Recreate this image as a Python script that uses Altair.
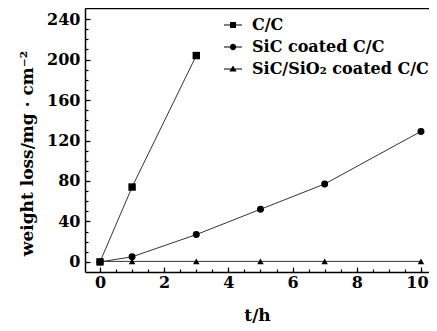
import altair as alt
import pandas as pd

series_names = ["C/C", "SiC coated C/C", "SiC/SiO₂ coated C/C"]
t_cc = [0, 1, 3]
w_cc = [0, 74, 204]
t_sic = [0, 1, 3, 5, 7, 10]
w_sic = [0, 5, 27, 52, 77, 129]
t_sio2 = [0, 1, 3, 5, 7, 10]
w_sio2 = [0.5, 0.5, 0.5, 0.5, 0.5, 0.5]

x_major = [0, 2, 4, 6, 8, 10]
x_minor = [i * 0.5 for i in range(0, 21)]
y_major = [0, 40, 80, 120, 160, 200, 240]
y_minor = list(range(0, 250, 10))

rows = []
for name, ts, ws in zip(series_names, [t_cc, t_sic, t_sio2], [w_cc, w_sic, w_sio2]):
    for t, w in zip(ts, ws):
        rows.append({"series": name, "t": t, "w": w})
df = pd.DataFrame(rows)

FONT = "DejaVu Serif"
FS = 16
xscale = alt.Scale(domain=[-0.467, 10.25], nice=False, zero=False)
yscale = alt.Scale(domain=[-10, 251], nice=False, zero=False)

base = alt.Chart(df)

main_x_axis = alt.Axis(values=x_major, tickSize=0, domain=True, domainColor="black", domainWidth=1.5,
                       grid=False, labelFont=FONT, labelFontSize=FS, labelFontWeight="bold",
                       labelColor="black", labelPadding=2,
                       labelOffset=alt.ConditionalAxisNumber(condition={"test": "datum.value == 10", "value": -4}, value=0),
                       title="t/h", titleFont=FONT, titleFontSize=17, titleFontWeight="bold",
                       titleColor="black", titlePadding=17, orient="bottom", format="d")
main_y_axis = alt.Axis(values=y_major, tickSize=0, domain=True, domainColor="black", domainWidth=1.5,
                       grid=False, labelFont=FONT, labelFontSize=FS, labelFontWeight="bold",
                       labelColor="black", labelPadding=5,
                       title="weight loss/mg · cm⁻²", titleFont=FONT, titleFontSize=17,
                       titleFontWeight="bold", titleColor="black", titleX=-53, titleY=145,
                       titleBaseline="alphabetic", orient="left", format="d")

lines = base.mark_line(color="#333333", strokeWidth=1).encode(
    x=alt.X("t:Q", scale=xscale, axis=main_x_axis),
    y=alt.Y("w:Q", scale=yscale, axis=main_y_axis),
    detail="series:N",
)

points = base.mark_point(filled=True, color="black", opacity=1).encode(
    x=alt.X("t:Q", scale=xscale, axis=None),
    y=alt.Y("w:Q", scale=yscale, axis=None),
    shape=alt.Shape("series:N", scale=alt.Scale(domain=series_names, range=["square", "circle", "triangle-up"]), legend=None),
    size=alt.Size("series:N", scale=alt.Scale(domain=series_names, range=[55, 42, 50]), legend=None),
)

def tick_axis(values, size, orient):
    return alt.Axis(values=values, tickSize=size, offset=-size, domain=False, labels=False,
                    grid=False, title=None, tickColor="black", tickWidth=1.2, orient=orient)

major = base.mark_point(opacity=0).encode(
    x=alt.X("t:Q", scale=xscale, axis=tick_axis(x_major, 5, "bottom")),
    y=alt.Y("w:Q", scale=yscale, axis=tick_axis(y_major, 5, "left")),
)
minor = base.mark_point(opacity=0).encode(
    x=alt.X("t:Q", scale=xscale, axis=tick_axis(x_minor, 3, "bottom")),
    y=alt.Y("w:Q", scale=yscale, axis=tick_axis(y_minor, 3, "left")),
)
top = base.mark_point(opacity=0).encode(
    x=alt.X("t:Q", scale=xscale, axis=alt.Axis(orient="top", labels=False, ticks=False, grid=False,
                                                 title=None, domain=True, domainColor="black", domainWidth=1.5)),
    y=alt.Y("w:Q", scale=yscale, axis=None),
)

seg = "M-1,-0.06H1V0.06H-1Z"
sq = seg + "M-0.33,-0.33H0.33V0.33H-0.33Z"
ci = seg + "M0.35,0A0.35,0.35 0 1,1 -0.35,0A0.35,0.35 0 1,1 0.35,0Z"
tr = seg + "M0,-0.4L0.4,0.28H-0.4Z"

legend_layer = base.mark_point(opacity=0, filled=True, color="black").encode(
    x=alt.X("t:Q", scale=xscale, axis=None),
    y=alt.Y("w:Q", scale=yscale, axis=None),
    shape=alt.Shape("series:N", scale=alt.Scale(domain=series_names, range=[sq, ci, tr]),
                    legend=alt.Legend(orient="none", legendX=139, legendY=8, title=None, padding=0,
                                      symbolSize=324, labelFont=FONT, labelFontSize=16,
                                      labelFontWeight="bold", labelColor="black",
                                      labelOffset=10, rowPadding=5, labelLimit=300,
                                      symbolFillColor="black", symbolStrokeColor="black",
                                      symbolStrokeWidth=0, symbolOpacity=1)),
)

chart = alt.layer(lines, points, major, minor, top, legend_layer).resolve_scale(
    shape="independent", size="independent"
).resolve_axis(x="independent", y="independent").properties(
    width=344, height=264,
    autosize=alt.AutoSizeParams(type="none"),
    padding={"left": 77, "top": 0, "right": 0, "bottom": 51},
).configure_view(stroke=None).configure(background="white")

chart.save("out.html", embed_options={"renderer": "svg", "actions": False})
